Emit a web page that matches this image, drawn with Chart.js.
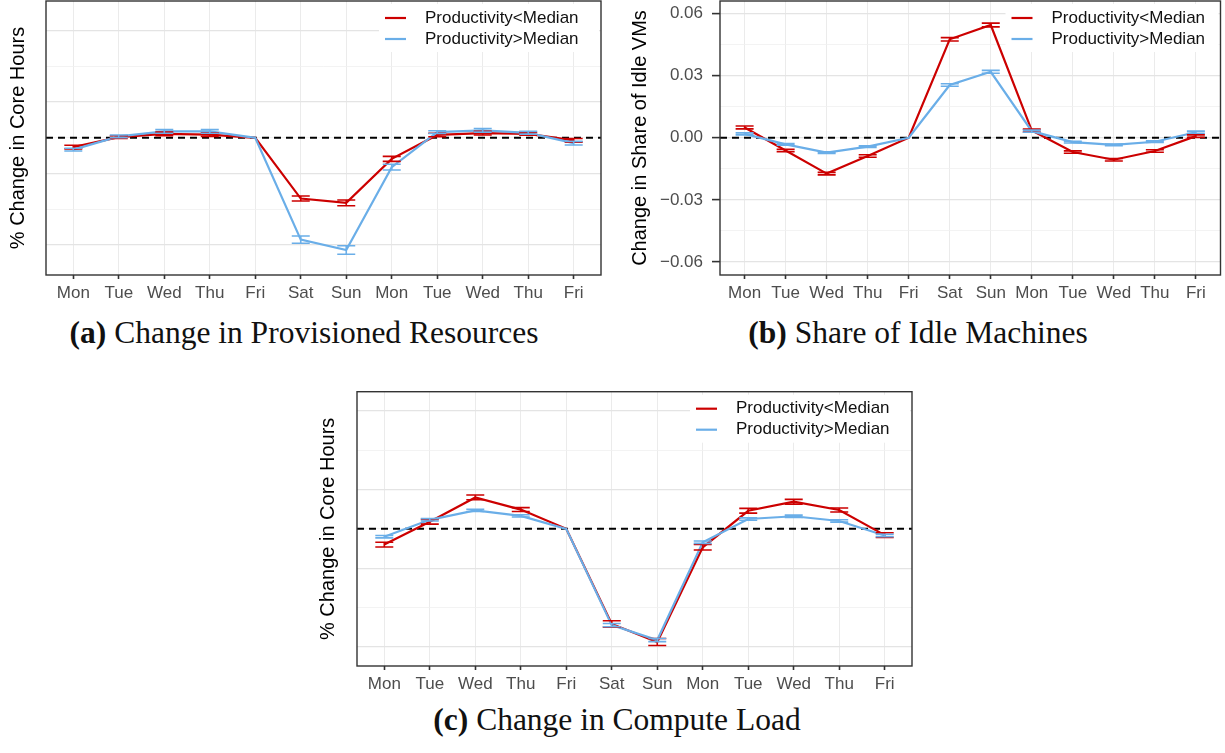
<!DOCTYPE html>
<html>
<head>
<meta charset="utf-8">
<script src="https://cdn.jsdelivr.net/npm/chart.js@4.4.1/dist/chart.umd.min.js"></script>
<style>
    body { margin: 0; background: #fff; width: 1225px; height: 753px; position: relative; overflow: hidden; }
    canvas { position: absolute; }
    .cap { position: absolute; font-family: 'Liberation Serif', 'Times New Roman', serif; font-size: 31.5px; line-height: 1; color: #111; white-space: nowrap; transform: translateX(-50%); }
</style>
</head>
<body>
<canvas id="chartA" width="605" height="305" style="left:0px;top:0px"></canvas>
<canvas id="chartB" width="610" height="305" style="left:615px;top:0px"></canvas>
<canvas id="chartC" width="605" height="306" style="left:310px;top:390px"></canvas>
<div class="cap" style="left:304px;top:317px"><b>(a)</b> Change in Provisioned Resources</div>
<div class="cap" style="left:918px;top:317px"><b>(b)</b> Share of Idle Machines</div>
<div class="cap" style="left:617px;top:704px"><b>(c)</b> Change in Compute Load</div>
<script>
// day labels along the x axis
const days = ['Mon', 'Tue', 'Wed', 'Thu', 'Fri', 'Sat', 'Sun', 'Mon', 'Tue', 'Wed', 'Thu', 'Fri'];
const seriesNames = ['Productivity<Median', 'Productivity>Median'];
const RED = '#CC0000';
const BLUE = '#6AAEE8';

// (a) provisioned resources (axis unlabelled in the source)
const provLow  = [-0.26, 0.02, 0.11, 0.09, 0.00, -1.70, -1.82, -0.59, 0.08, 0.13, 0.11, -0.07];
const provHigh = [-0.33, 0.04, 0.18, 0.18, 0.00, -2.85, -3.14, -0.82, 0.16, 0.21, 0.14, -0.15];
const provLowErr  = [0.05, 0.04, 0.05, 0.05, 0.00, 0.07, 0.08, 0.07, 0.05, 0.05, 0.04, 0.05];
const provHighErr = [0.04, 0.04, 0.05, 0.05, 0.00, 0.10, 0.12, 0.08, 0.04, 0.05, 0.04, 0.05];

// (b) share of idle VMs
const idleLow  = [0.0050, -0.0061, -0.0173, -0.0088, 0.0000, 0.0476, 0.0545, 0.0035, -0.0069, -0.0106, -0.0064, 0.0008];
const idleHigh = [0.0019, -0.0032, -0.0072, -0.0043, 0.0000, 0.0255, 0.0319, 0.0032, -0.0021, -0.0034, -0.0019, 0.0027];
const idleLowErr  = [0.0007, 0.0006, 0.0006, 0.0006, 0.0000, 0.0008, 0.0009, 0.0007, 0.0006, 0.0006, 0.0006, 0.0006];
const idleHighErr = [0.0005, 0.0004, 0.0004, 0.0004, 0.0000, 0.0006, 0.0007, 0.0005, 0.0004, 0.0004, 0.0004, 0.0005];
const idleTicks = [-0.06, -0.03, 0, 0.03, 0.06];
const idleTickLabels = ['\u22120.06', '\u22120.03', '0.00', '0.03', '0.06'];
const idleMinor = [-0.045, -0.015, 0.015, 0.045];

// (c) compute load (axis unlabelled in the source)
const loadLow  = [-0.40, 0.18, 0.80, 0.49, 0.00, -2.42, -2.88, -0.47, 0.46, 0.69, 0.48, -0.16];
const loadHigh = [-0.20, 0.23, 0.47, 0.33, 0.00, -2.45, -2.83, -0.34, 0.25, 0.32, 0.20, -0.17];
const loadLowErr  = [0.06, 0.06, 0.06, 0.05, 0.00, 0.08, 0.09, 0.07, 0.06, 0.06, 0.05, 0.06];
const loadHighErr = [0.03, 0.03, 0.03, 0.03, 0.00, 0.04, 0.04, 0.03, 0.03, 0.03, 0.03, 0.03];
const unlabelledGrid = [-3, -2, -1, 0, 1, 2, 3];

const SANS = "'Liberation Sans', Arial, sans-serif";

// error bars, dashed zero line, panel frame and inset legend
const panelDecor = {
    id: 'panelDecor',
    beforeDatasetsDraw(chart) {
        const { ctx, chartArea, scales: { y } } = chart;
        const zy = y.getPixelForValue(0);
        ctx.save();
        ctx.strokeStyle = '#000';
        ctx.lineWidth = 2;
        ctx.setLineDash([7, 5]);
        ctx.beginPath();
        ctx.moveTo(chartArea.left, zy);
        ctx.lineTo(chartArea.right, zy);
        ctx.stroke();
        ctx.restore();
    },
    afterDatasetsDraw(chart, args, opts) {
        const { ctx, scales: { x, y } } = chart;
        chart.data.datasets.forEach((ds, i) => {
            const err = opts.errors[i];
            ctx.save();
            ctx.strokeStyle = ds.borderColor;
            ctx.lineWidth = 1.6;
            ds.data.forEach((p, j) => {
                if (!err[j]) return;
                const px = x.getPixelForValue(p.x);
                const top = y.getPixelForValue(p.y + err[j]);
                const bot = y.getPixelForValue(p.y - err[j]);
                ctx.beginPath();
                ctx.moveTo(px, top); ctx.lineTo(px, bot);
                ctx.moveTo(px - 9, top); ctx.lineTo(px + 9, top);
                ctx.moveTo(px - 9, bot); ctx.lineTo(px + 9, bot);
                ctx.stroke();
            });
            ctx.restore();
        });
    },
    afterDraw(chart, args, opts) {
        const { ctx, chartArea } = chart;
        const tx = chartArea.right + opts.legendX;
        ctx.save();
        ctx.fillStyle = '#fff';
        ctx.fillRect(tx - 46, chartArea.top + 3, chartArea.right - (tx - 46) - 2, 48);
        chart.data.datasets.forEach((ds, i) => {
            const ly = chartArea.top + 17 + i * 21;
            ctx.strokeStyle = ds.borderColor;
            ctx.lineWidth = 2.2;
            ctx.beginPath();
            ctx.moveTo(tx - 40, ly);
            ctx.lineTo(tx - 19, ly);
            ctx.stroke();
            ctx.fillStyle = '#111';
            ctx.font = '17px ' + SANS;
            ctx.textBaseline = 'middle';
            ctx.textAlign = 'left';
            ctx.fillText(seriesNames[i], tx, ly);
        });
        ctx.strokeStyle = '#333';
        ctx.lineWidth = 1.4;
        ctx.strokeRect(chartArea.left, chartArea.top, chartArea.right - chartArea.left, chartArea.bottom - chartArea.top);
        ctx.restore();
    }
};

function makeChart(id, cfg) {
    const ctx = document.getElementById(id).getContext('2d');
    const yTicks = cfg.yTicks;
    const isMajor = v => cfg.majorTicks.some(m => Math.abs(m - v) < 1e-9);
    return new Chart(ctx, {
        type: 'line',
        data: {
            datasets: [
                { label: seriesNames[0], data: cfg.low.map((v, i) => ({ x: i, y: v })), borderColor: RED, borderWidth: 2.2, pointRadius: 0, tension: 0, order: 1 },
                { label: seriesNames[1], data: cfg.high.map((v, i) => ({ x: i, y: v })), borderColor: BLUE, borderWidth: 2.2, pointRadius: 0, tension: 0, order: 0 }
            ]
        },
        options: {
            responsive: false,
            animation: false,
            layout: { padding: { top: cfg.padTop, right: cfg.padRight, left: 0, bottom: 0 } },
            scales: {
                x: {
                    type: 'linear',
                    min: -0.6,
                    max: 11.6,
                    afterBuildTicks: scale => { scale.ticks = days.map((d, i) => ({ value: i })); },
                    afterFit: scale => {
                        scale.height = cfg.xHeight;
                        scale.paddingLeft = 0; scale.paddingRight = 0;
                    },
                    ticks: {
                        autoSkip: false,
                        maxRotation: 0,
                        padding: 4,
                        color: '#4d4d4d',
                        font: { family: SANS, size: 17 },
                        callback: (v, i) => days[i]
                    },
                    grid: { color: '#ebebeb', lineWidth: 1, tickLength: 4, tickColor: '#333', tickWidth: 1.6 },
                    border: { display: false }
                },
                y: {
                    type: 'linear',
                    min: cfg.yMin,
                    max: cfg.yMax,
                    afterBuildTicks: scale => { scale.ticks = yTicks.map(v => ({ value: v })); },
                    afterFit: scale => {
                        scale.width = cfg.yWidth;
                        scale.paddingTop = 0; scale.paddingBottom = 0;
                    },
                    ticks: {
                        display: cfg.showYLabels,
                        autoSkip: false,
                        padding: 9,
                        color: '#4d4d4d',
                        font: { family: SANS, size: 17 },
                        callback: v => {
                            const k = cfg.majorTicks.findIndex(m => Math.abs(m - v) < 1e-9);
                            return k >= 0 && cfg.yLabels ? cfg.yLabels[k] : '';
                        }
                    },
                    grid: {
                        color: c => isMajor(c.tick.value) ? '#e4e4e4' : '#f0f0f0',
                        lineWidth: c => isMajor(c.tick.value) ? 1.2 : 0.8,
                        drawTicks: cfg.showYLabels,
                        tickLength: 8,
                        tickWidth: 1.6,
                        tickColor: c => isMajor(c.tick.value) ? '#333' : 'rgba(0,0,0,0)'
                    },
                    border: { display: false },
                    title: {
                        display: true,
                        text: cfg.yTitle,
                        color: '#000',
                        font: { family: SANS, size: 20 },
                        padding: { top: cfg.titlePad, bottom: 0 }
                    }
                }
            },
            plugins: {
                legend: { display: false },
                tooltip: { enabled: false },
                panelDecor: { errors: [cfg.lowErr, cfg.highErr], legendX: cfg.legendX }
            }
        },
        plugins: [panelDecor]
    });
}

makeChart('chartA', {
    low: provLow, high: provHigh, lowErr: provLowErr, highErr: provHighErr,
    yMin: -3.84, yMax: 3.83, yTicks: unlabelledGrid, majorTicks: [-3, -1, 1, 3], yLabels: null,
    showYLabels: false, yWidth: 46, titlePad: 6, yTitle: '% Change in Core Hours',
    padTop: 1, padRight: 4, xHeight: 30, legendX: -176
});

makeChart('chartB', {
    low: idleLow, high: idleHigh, lowErr: idleLowErr, highErr: idleHighErr,
    yMin: -0.0663, yMax: 0.0661, yTicks: idleTicks.concat(idleMinor).sort((a, b) => a - b), majorTicks: idleTicks, yLabels: idleTickLabels,
    showYLabels: true, yWidth: 105, titlePad: 13, yTitle: 'Change in Share of Idle VMs',
    padTop: 1, padRight: 4.5, xHeight: 30, legendX: -169
});

makeChart('chartC', {
    low: loadLow, high: loadHigh, lowErr: loadLowErr, highErr: loadHighErr,
    yMin: -3.49, yMax: 3.49, yTicks: unlabelledGrid, majorTicks: [-3, -1, 1, 3], yLabels: null,
    showYLabels: false, yWidth: 47, titlePad: 6, yTitle: '% Change in Core Hours',
    padTop: 1.7, padRight: 3, xHeight: 30, legendX: -176
});
</script>
</body>
</html>
